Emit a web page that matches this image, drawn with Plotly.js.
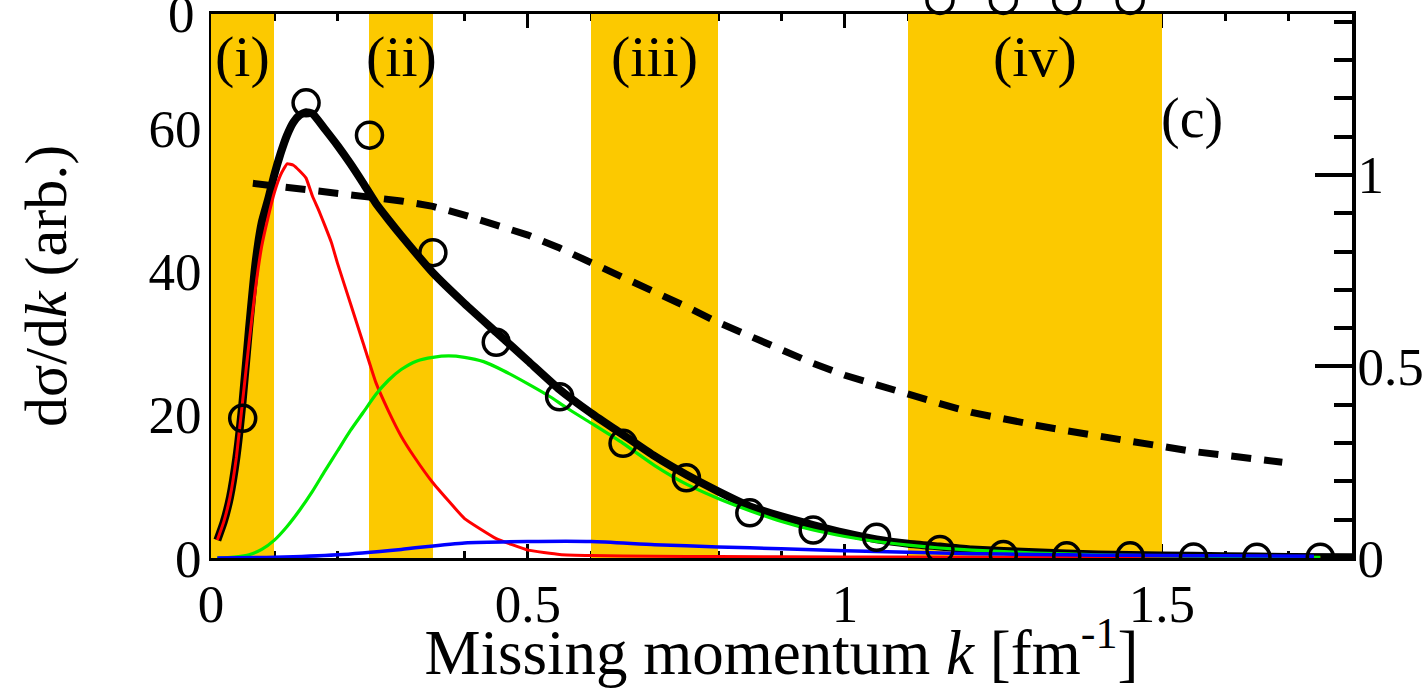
<!DOCTYPE html>
<html>
<head>
<meta charset="utf-8">
<script src="https://cdn.plot.ly/plotly-3.0.1.min.js"></script>
<style>html,body{margin:0;padding:0;background:#fff;}#chart{width:1427px;height:688px;}</style>
</head>
<body>
<div id="chart"></div>
<script>
// Shaded momentum regions
const bandStart = [0.0, 0.25, 0.6, 1.1];
const bandEnd   = [0.1, 0.35, 0.8, 1.5];
const bandLabels = ["(i)", "(ii)", "(iii)", "(iv)"];

// Measured data (open circles)
const kData = [0.05,0.15,0.25,0.35,0.45,0.55,0.65,0.75,0.85,0.95,1.05,1.15,1.25,1.35,1.45,1.55,1.65,1.75];
const dataVals = [19.5,63.5,59,42.6,30.1,22.5,16,11.2,6.3,3.9,2.9,1.2,0.5,0.3,0.3,0.15,0.1,0.1];

// Circles of the panel above, cut by the top edge
const upperK = [1.15,1.25,1.35,1.45];
const upperVals = [77.8,77.8,77.8,77.8];

// Total fit (thick black)
const kTotal = [0.01,0.02,0.03,0.04,0.05,0.06,0.07,0.08,0.09,0.10,0.11,0.12,0.13,0.14,0.15,0.16,0.18,0.20,0.22,0.24,0.26,0.28,0.30,0.35,0.40,0.45,0.50,0.55,0.60,0.65,0.70,0.75,0.80,0.85,0.90,0.95,1.00,1.05,1.10,1.15,1.20,1.30,1.40,1.50,1.60,1.70,1.80];
const totalVals = [2.5,5,8.5,14,22,32,41,46.8,50,53.5,56.5,59,60.8,61.8,62.2,62,59.8,57.5,55,52.3,49.5,47.2,45,39.8,35.5,31.5,27.5,23.5,20.2,17.2,14.2,11.6,9.3,7.2,5.8,4.6,3.5,2.6,2.0,1.6,1.2,0.8,0.5,0.35,0.25,0.15,0.1];

// Red component
const kRed = [0.01,0.02,0.03,0.04,0.05,0.06,0.07,0.08,0.09,0.10,0.11,0.12,0.13,0.14,0.15,0.16,0.17,0.18,0.19,0.20,0.22,0.24,0.26,0.28,0.30,0.32,0.35,0.40,0.45,0.50,0.55,0.60,0.70,0.80,1.00,1.20,1.40,1.60,1.75];
const redVals = [2.5,5,8.5,14,22,30,37.5,43.5,47.5,51,53.5,55,54.8,54,53,50.5,48.5,46.3,44,41,35.5,30,24.5,20.5,17,14.2,10.5,5.5,2.7,1.1,0.5,0.35,0.25,0.2,0.15,0.1,0.05,0.03,0.02];

// Green component
const kGreen = [0.01,0.02,0.04,0.06,0.08,0.10,0.12,0.14,0.16,0.18,0.20,0.22,0.24,0.26,0.28,0.30,0.325,0.35,0.375,0.40,0.43,0.46,0.50,0.535,0.56,0.60,0.65,0.70,0.75,0.80,0.85,0.90,0.95,1.00,1.05,1.10,1.15,1.20,1.30,1.40,1.50,1.60,1.75];
const greenVals = [0,0.02,0.15,0.45,1.2,2.5,4.4,6.7,9.3,12.2,15,17.8,20.3,22.8,24.8,26.3,27.5,28,28.2,28,27.4,26.2,24.3,22.5,21,18.8,16,12.9,10.3,8.3,6.6,5.1,3.9,3.0,2.3,1.8,1.4,1.1,0.7,0.45,0.3,0.2,0.1];

// Blue component
const kBlue = [0.01,0.1,0.2,0.3,0.4,0.5,0.6,0.7,0.8,0.9,1.0,1.1,1.2,1.3,1.4,1.5,1.6,1.74];
const blueVals = [0,0.1,0.45,1.2,2.1,2.3,2.3,1.85,1.55,1.3,1.0,0.8,0.6,0.5,0.4,0.35,0.3,0.25];

// Dashed curve on the right axis
const kDash = [0.066,0.1,0.15,0.2,0.25,0.3,0.35,0.4,0.45,0.5,0.55,0.6,0.65,0.7,0.75,0.8,0.85,0.9,0.95,1.0,1.05,1.1,1.15,1.2,1.25,1.3,1.35,1.4,1.45,1.5,1.55,1.6,1.65,1.69];
const dashVals = [0.978,0.972,0.963,0.953,0.942,0.932,0.918,0.895,0.87,0.843,0.809,0.772,0.735,0.697,0.656,0.615,0.578,0.542,0.508,0.477,0.452,0.425,0.403,0.38,0.362,0.347,0.332,0.318,0.303,0.289,0.278,0.268,0.258,0.25];

const X_MAX = 1.8;
const Y_MAX = 75.9;
const Y2_MAX = 1.42;

const FONT = 'Liberation Serif, Times New Roman, serif';

const bandCenters = bandStart.map((s, i) => (s + bandEnd[i]) / 2);
const bandWidths = bandStart.map((s, i) => bandEnd[i] - s);

const traces = [
  {type:'bar', x:bandCenters, y:bandStart.map(() => Y_MAX), width:bandWidths, base:0,
   marker:{color:'#FCC900', line:{width:0}}, hoverinfo:'skip', xaxis:'x', yaxis:'y'},
  {type:'scatter', mode:'lines', x:kTotal, y:totalVals, line:{color:'black', width:8, shape:'spline', smoothing:0.5}, xaxis:'x', yaxis:'y'},
  {type:'scatter', mode:'lines', x:kRed, y:redVals, line:{color:'#FF0000', width:3, shape:'spline', smoothing:0.3}, xaxis:'x', yaxis:'y'},
  {type:'scatter', mode:'lines', x:kGreen, y:greenVals, line:{color:'#00EE00', width:3.2, shape:'spline', smoothing:0.6}, xaxis:'x', yaxis:'y'},
  {type:'scatter', mode:'lines', x:kBlue, y:blueVals, line:{color:'#0000FF', width:3.5, shape:'spline', smoothing:0.6}, xaxis:'x', yaxis:'y'},
  {type:'scatter', mode:'markers', x:kData, y:dataVals, marker:{symbol:'circle-open', size:26, color:'black', line:{width:3.5, color:'black'}}, xaxis:'x', yaxis:'y'},
  {type:'scatter', mode:'lines', x:kDash, y:dashVals, line:{color:'black', width:7, dash:'20px,13px'}, xaxis:'x', yaxis:'y2'}
];

// open circles of the panel above, placed from their data values (outside the axis range)
const shapes = upperK.map((k, i) => ({
  type:'circle', layer:'above',
  xref:'paper', yref:'paper',
  xsizemode:'pixel', ysizemode:'pixel',
  xanchor:k / X_MAX, yanchor:upperVals[i] / Y_MAX,
  x0:-13, x1:13, y0:-13, y1:13,
  line:{color:'black', width:3.5}, fillcolor:'rgba(0,0,0,0)'
}));

const annotations = bandLabels.map((t, i) => ({
  text:t, x:bandCenters[i], xref:'x', y:0.921, yref:'paper', xanchor:'center', yanchor:'middle',
  showarrow:false, font:{family:FONT, size:58, color:'black'}
}));
annotations.push({text:'(c)', x:1.547, xref:'x', y:0.807, yref:'paper', xanchor:'center', yanchor:'middle',
  showarrow:false, font:{family:FONT, size:56, color:'black'}});
annotations.push({text:'0', x:0, xref:'paper', xanchor:'right', xshift:-14, y:1, yref:'paper', yanchor:'middle',
  showarrow:false, font:{family:FONT, size:53, color:'black'}});

const layout = {
  width:1427, height:688,
  margin:{l:211, r:75, t:14, b:130, pad:0},
  paper_bgcolor:'white', plot_bgcolor:'white',
  showlegend:false,
  bargap:0,
  font:{family:FONT, color:'black', size:53},
  xaxis:{
    range:[0,X_MAX], showline:true, linewidth:3, linecolor:'black', mirror:'ticks',
    ticks:'inside', ticklen:14, tickwidth:3, tickcolor:'black', dtick:0.5, tick0:0,
    minor:{dtick:0.1, ticks:'inside', ticklen:7, tickwidth:3, tickcolor:'black', showgrid:false},
    showgrid:false, zeroline:false, layer:'below traces',
    tickfont:{family:FONT, size:53, color:'black'}, ticklabelstandoff:-3,
    title:{text:'Missing momentum <i>k</i> [fm<sup>-1</sup>]', font:{family:FONT, size:63, color:'black'}, standoff:4}
  },
  yaxis:{
    range:[0,Y_MAX], showline:true, linewidth:2, linecolor:'black', ticks:'', dtick:20,
    showgrid:false, zeroline:false, layer:'below traces',
    tickfont:{family:FONT, size:53, color:'black'}, ticklabelstandoff:-3,
    title:{text:'dσ/d<i>k</i> (arb.)', font:{family:FONT, size:60, color:'black'}, standoff:62}
  },
  yaxis2:{
    range:[0,Y2_MAX], overlaying:'y', side:'right', anchor:'x',
    showline:true, linewidth:4, linecolor:'black',
    ticks:'inside', ticklen:37, tickwidth:4, tickcolor:'black', dtick:0.5, tick0:0,
    minor:{dtick:0.1, ticks:'inside', ticklen:18, tickwidth:4, tickcolor:'black', showgrid:false},
    showgrid:false, zeroline:false, layer:'below traces',
    tickfont:{family:FONT, size:53, color:'black'}, ticklabelstandoff:-9
  },
  shapes:shapes,
  annotations:annotations
};

Plotly.newPlot('chart', traces, layout, {displayModeBar:false, staticPlot:true});
</script>
</body>
</html>
